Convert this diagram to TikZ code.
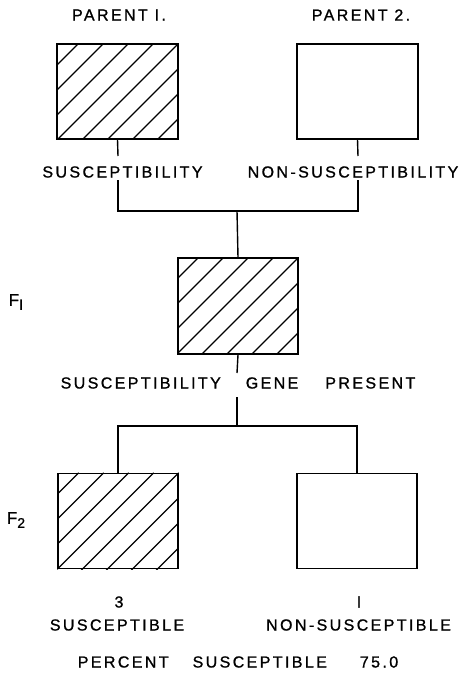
\documentclass[tikz,border=0pt]{standalone}
\usepackage{fontspec}
\setmainfont{Liberation Sans}[LetterSpace=15, FakeBold=1]
\begin{document}
\begin{tikzpicture}[x=1pt, y=-1pt,
    plant/.style={draw, line width=1.5pt, minimum width=121pt, minimum height=95pt, inner sep=0pt},
    txt/.style={font=\fontsize{16pt}{18pt}\selectfont, inner sep=0pt},
    gen/.style={font=\fontsize{17pt}{19pt}\selectfont, inner sep=0pt},
    wire/.style={line width=1.4pt}]
    \useasboundingbox (0,0) rectangle (461,683);
    % parents
    \node[txt] (h1) at (119, 15) {PARENT I.};
    \node[txt] (h2) at (361, 15) {PARENT 2.};
    \node[plant] (p1) at (117.5, 91.5) {};
    \node[plant] (p2) at (357.5, 91.5) {};
    \node[txt] (s1) at (122.5, 172) {SUSCEPTIBILITY};
    \node[txt] (s2) at (353, 172) {NON-SUSCEPTIBILITY};
    % F1
    \node[gen] (g1) at (16, 302) {F\raisebox{-4pt}{\fontsize{15pt}{17pt}\selectfont I}};
    \node[plant, minimum width=120pt, minimum height=96pt] (f1) at (238, 306) {};
    \node[txt] (s3) at (238, 383) {SUSCEPTIBILITY\hspace{25pt}GENE\hspace{27pt}PRESENT};
    % F2
    \node[gen] (g2) at (16, 520) {F\raisebox{-4pt}{\fontsize{14pt}{16pt}\selectfont 2}};
    \node[plant, minimum width=120pt] (f2a) at (118, 521) {};
    \node[plant, minimum width=120pt] (f2b) at (357, 521) {};
    \node[txt] (n3) at (119, 602) {3};
    \node[txt] (n1) at (359, 602) {I};
    \node[txt] (s4) at (117, 625) {SUSCEPTIBLE};
    \node[txt] (s5) at (358.5, 625) {NON-SUSCEPTIBLE};
    \node[txt] (pc) at (238, 662) {PERCENT\hspace{24pt}SUSCEPTIBLE\hspace{33pt}75.0};
    % hatching
    \foreach \b in {p1, f1, f2a} {
      \begin{scope}
        \clip (\b.south west) rectangle (\b.north east);
        \foreach \k in {-5,...,9}
          \draw[line width=1.1pt] ([xshift=-\k*25pt]\b.north east) -- ++(-220pt,-220pt);
      \end{scope}
    }
    % junctions
    \coordinate (a1) at (118, 156);
    \coordinate (a2) at (358, 156);
    \coordinate (b1) at (118, 180);
    \coordinate (b2) at (358, 180);
    \coordinate (c1) at (118, 211);
    \coordinate (c2) at (358, 211);
    \coordinate (c0) at (237, 211);
    \coordinate (d0) at (237, 373);
    \coordinate (e0) at (237, 397);
    \coordinate (k0) at (237, 426);
    \coordinate (k1) at (118, 426);
    \coordinate (k2) at (357, 426);
    \draw[wire] (p1.south) -- (a1);
    \draw[wire] (p2.south) -- (a2);
    \draw[wire] (b1) -- (c1) -- (c2) -- (b2);
    \draw[wire] (c0) -- (f1.north);
    \draw[wire] (f1.south) -- (d0);
    \draw[wire] (e0) -- (k0);
    \draw[wire] (f2a.north) -- (k1) -- (k2) -- (f2b.north);
\end{tikzpicture}
\end{document}
